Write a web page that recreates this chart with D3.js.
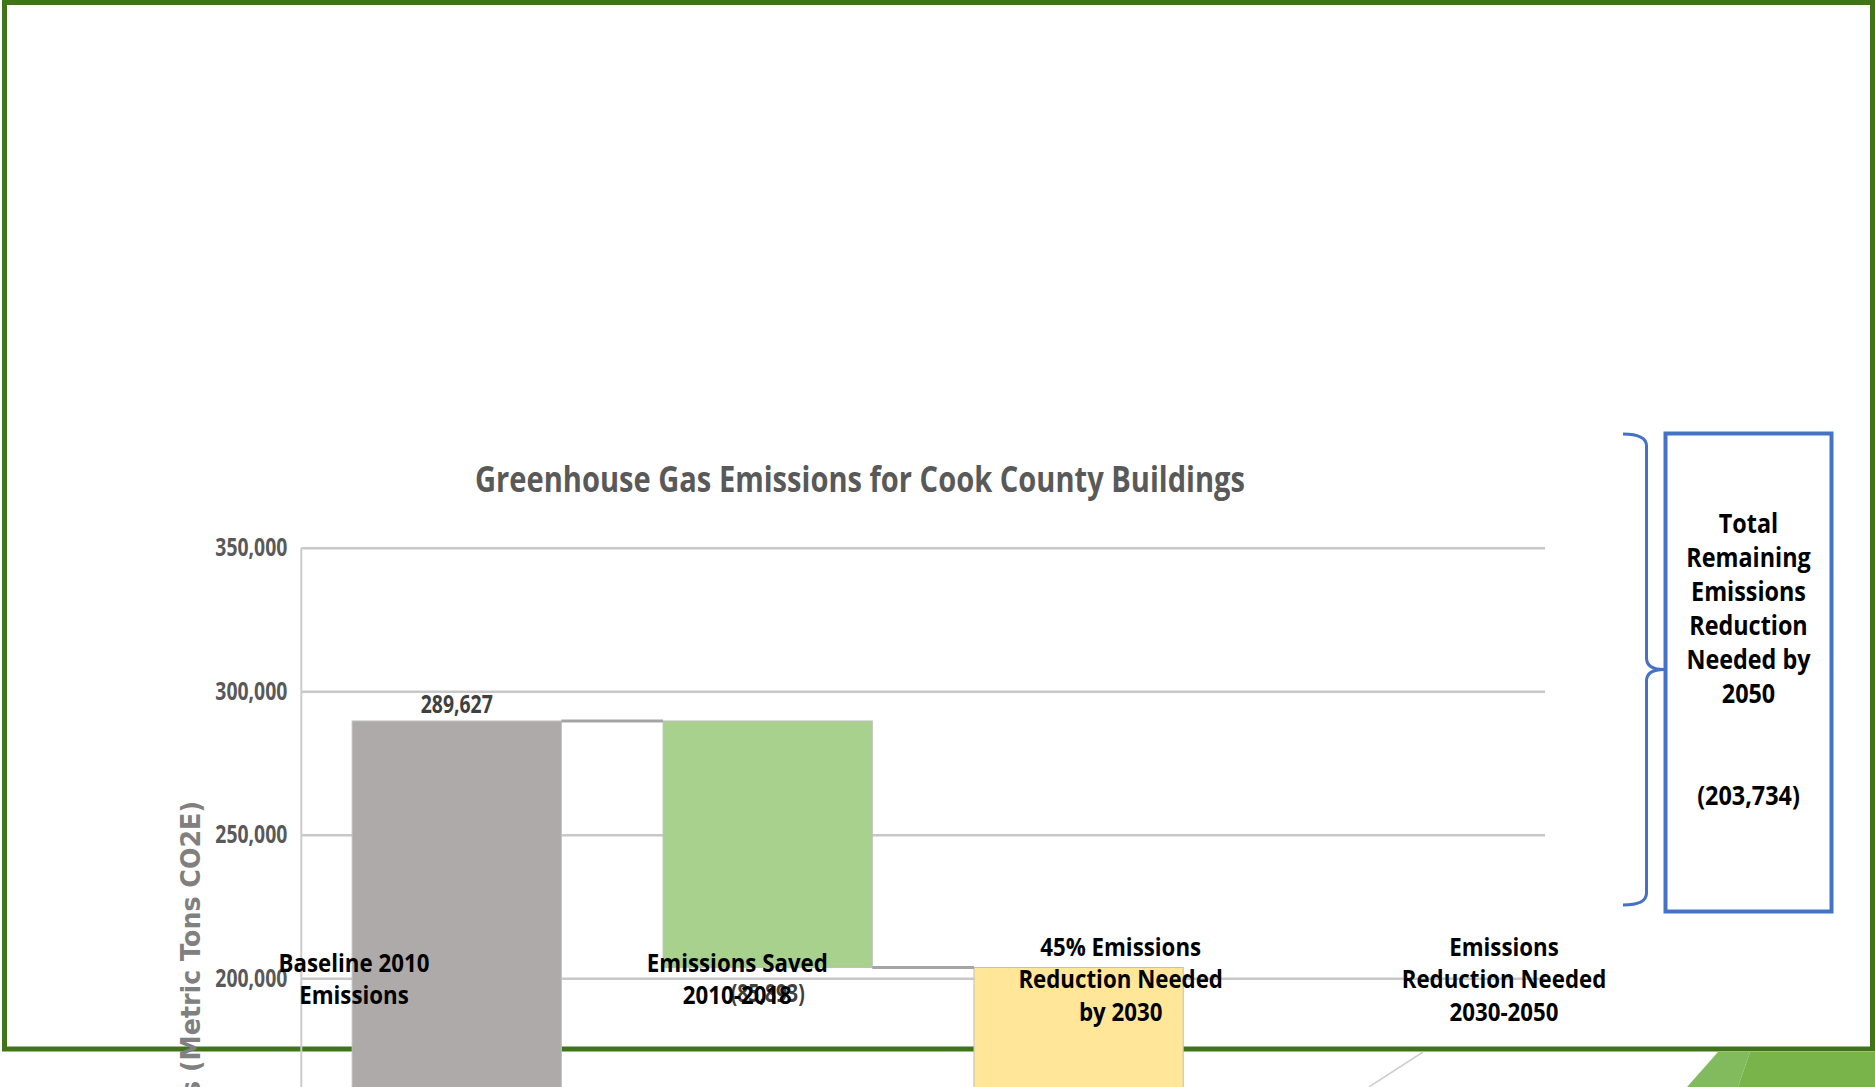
<!DOCTYPE html>
<html>
<head>
<meta charset="utf-8">
<script src="https://cdn.jsdelivr.net/npm/d3@7"></script>
<style>
  html, body { margin: 0; padding: 0; background: #fff; overflow: hidden; }
  svg { display: block; }
</style>
</head>
<body>
<div id="slide"></div>
<script>
const width = 1875, height = 1087;

// chart values
const categories = ["Baseline 2010 Emissions", "Emissions Saved 2010-2018", "45% Emissions Reduction Needed by 2030", "Emissions Reduction Needed 2030-2050"];
const categoryLines = [["Baseline 2010", "Emissions"], ["Emissions Saved", "2010-2018"], ["45% Emissions", "Reduction Needed", "by 2030"], ["Emissions", "Reduction Needed", "2030-2050"]];
const changes = [289627, -85893, -44439, -159295];
const barColors = ["#aeaaaa", "#a9d18e", "#ffe699", "#f4b183"];
const yTicks = [200000, 250000, 300000, 350000];
const boxLines = ["Total", "Remaining", "Emissions", "Reduction", "Needed by", "2050"];
const chartTitle = "Greenhouse Gas Emissions for Cook County Buildings";
const yTitle = "Emissions (Metric Tons CO2E)";

const fonts = {
  title: { family: "'Open Sans', sans-serif", size: 36, weight: 700, fill: "#595959" },
  tick: { family: "'Open Sans', sans-serif", size: 25, weight: 700, fill: "#595959" },
  value: { family: "'Open Sans', sans-serif", size: 25, weight: 700, fill: "#404040" },
  cat: { family: "'Open Sans', sans-serif", size: 25, weight: 700, fill: "#000" },
  box: { family: "'Open Sans', sans-serif", size: 26, weight: 700, fill: "#000" },
  axis: { family: "'DejaVu Sans', sans-serif", size: 26, weight: 700, fill: "#808080" }
};

let svg;

const Chart = {
  init: () => {
    svg = d3.select("#slide").append("svg")
      .attr("width", width)
      .attr("height", height)
      .attr("viewBox", [0, 0, width, height]);

    let running = 0;
    const bars = changes.map((v, i) => {
      const start = running;
      running += v;
      return { cat: categories[i], lines: categoryLines[i], value: v, start: start, end: running, color: barColors[i] };
    });

    Chart.frame();
    Chart.graph(bars);
    Chart.bracket();
  },
  frame: () => {
    // slide border and the corner decoration under it
    svg.append("rect")
      .attr("x", 4.5).attr("y", 2.5)
      .attr("width", 1868).attr("height", 1046.5)
      .attr("fill", "none")
      .attr("stroke", "#3f7419")
      .attr("stroke-width", 5);

    svg.append("line")
      .attr("x1", 1423).attr("y1", 1052)
      .attr("x2", 1369).attr("y2", 1087)
      .attr("stroke", "#cfcfcf")
      .attr("stroke-width", 1.5);

    svg.append("path")
      .attr("d", "M1718,1052 L1750,1052 L1738,1087 L1687,1087 Z")
      .attr("fill", "#82bb5e");
    svg.append("path")
      .attr("d", "M1750,1052 L1875,1052 L1875,1087 L1738,1087 Z")
      .attr("fill", "#79b44b");
  },
  graph: (bars) => {
    const plotLeft = 301.3, plotRight = 1545;
    const fmt = d3.format(",");
    const label = v => v < 0 ? `(${fmt(-v)})` : fmt(v);

    const x = d3.scaleBand()
      .domain(categories)
      .range([plotLeft, plotRight])
      .paddingInner(0.327)
      .paddingOuter(0.1635);

    // category captions sit in their own text boxes, spread wider than the bars
    const xLabel = d3.scalePoint()
      .domain(categories)
      .range([354, 1504]);

    const y = d3.scaleLinear()
      .domain([200000, 350000])
      .range([978.2, 547.7]);

    const yAxis = d3.axisLeft(y)
      .tickValues(yTicks)
      .tickFormat(fmt)
      .tickSize(-(plotRight - plotLeft))
      .tickPadding(14);

    const gAxis = svg.append("g")
      .attr("transform", `translate(${plotLeft},0)`)
      .call(yAxis);
    gAxis.select(".domain").remove();
    gAxis.selectAll(".tick line")
      .attr("stroke", "#c8c8c8")
      .attr("stroke-width", 2.5);
    const ticks = styled(gAxis.selectAll(".tick text"), fonts.tick);
    squeeze(ticks, fonts.tick, "350,000", 72);

    svg.append("line")
      .attr("x1", plotLeft).attr("x2", plotLeft)
      .attr("y1", y(350000)).attr("y2", y(0))
      .attr("stroke", "#cccccc")
      .attr("stroke-width", 2);

    svg.append("g")
      .selectAll("rect")
      .data(bars)
      .join("rect")
      .attr("x", d => x(d.cat))
      .attr("width", x.bandwidth())
      .attr("y", d => y(Math.max(d.start, d.end)))
      .attr("height", d => Math.abs(y(d.start) - y(d.end)))
      .attr("fill", d => d.color)
      .attr("stroke", "#bfbfbf")
      .attr("stroke-width", 1);

    svg.append("g")
      .selectAll("line")
      .data(bars.slice(0, -1))
      .join("line")
      .attr("x1", d => x(d.cat) + x.bandwidth())
      .attr("x2", (d, i) => x(bars[i + 1].cat))
      .attr("y1", d => y(d.end))
      .attr("y2", d => y(d.end))
      .attr("stroke", "#a5a5a5")
      .attr("stroke-width", 3);

    // only the labels that land on the slide; the rest fall below its edge
    const labelY = d => d.value < 0 ? y(d.end) + 25 : y(d.end) - 18;
    const values = styled(svg.append("g")
      .selectAll("text")
      .data(bars.filter(d => labelY(d) < height))
      .join("text")
      .attr("x", d => x(d.cat) + x.bandwidth() / 2)
      .attr("y", labelY)
      .attr("text-anchor", "middle")
      .attr("dominant-baseline", "central")
      .text(d => label(d.value)), fonts.value);
    squeeze(values, fonts.value, "289,627", 72);

    const lineGap = 32.3, labelMid = 978.2;
    const cats = styled(svg.append("g")
      .selectAll("text")
      .data(bars.flatMap(d => d.lines.map((t, i) => ({ cat: d.cat, text: t, i: i, n: d.lines.length }))))
      .join("text")
      .attr("x", d => xLabel(d.cat))
      .attr("y", d => labelMid + (d.i - (d.n - 1) / 2) * lineGap)
      .attr("text-anchor", "middle")
      .attr("dominant-baseline", "central")
      .text(d => d.text), fonts.cat);
    squeeze(cats, fonts.cat, "Reduction Needed", 204.5);

    const title = styled(svg.append("text")
      .attr("x", 860)
      .attr("y", 492)
      .attr("text-anchor", "middle")
      .text(chartTitle), fonts.title);
    squeeze(title, fonts.title, chartTitle, 770);

    const axisTitle = styled(svg.append("text")
      .attr("transform", "translate(200,801) rotate(-90)")
      .attr("text-anchor", "end")
      .text(yTitle), fonts.axis);
    squeeze(axisTitle, fonts.axis, "(Metric Tons CO2E)", 271);

    Chart.remaining = -d3.sum(changes.slice(2));
    Chart.label = label;
  },
  bracket: () => {
    svg.append("path")
      .attr("d", "M1623,434 Q1646.5,434 1646.5,446 L1646.5,658 Q1646.5,669.5 1664,669.5 Q1646.5,669.5 1646.5,681 L1646.5,893 Q1646.5,905 1623,905")
      .attr("fill", "none")
      .attr("stroke", "#4472c4")
      .attr("stroke-width", 3);

    svg.append("rect")
      .attr("x", 1665.5).attr("y", 433.5)
      .attr("width", 166).attr("height", 478)
      .attr("fill", "none")
      .attr("stroke", "#4472c4")
      .attr("stroke-width", 4);

    const lines = boxLines.concat(["", "", Chart.label(-Chart.remaining)]);
    const box = styled(svg.append("g")
      .selectAll("text")
      .data(lines.map((t, i) => ({ t, i })).filter(d => d.t))
      .join("text")
      .attr("x", 1748.5)
      .attr("y", d => 522.6 + d.i * 34)
      .attr("text-anchor", "middle")
      .attr("dominant-baseline", "central")
      .text(d => d.t), fonts.box);
    squeeze(box, fonts.box, "Remaining", 124.4);
  }
};

function styled(sel, f) {
  return sel
    .attr("font-family", f.family)
    .attr("font-size", f.size)
    .attr("font-weight", f.weight)
    .attr("fill", f.fill);
}

// the slide uses a narrow face, so shrink each text by the ratio of one known line
function squeeze(sel, f, sample, target) {
  const probe = styled(svg.append("text"), f).text(sample);
  const k = target / probe.node().getComputedTextLength();
  probe.remove();
  sel.each(function () {
    const len = this.getComputedTextLength();
    if (len > 0) d3.select(this).attr("textLength", len * k).attr("lengthAdjust", "spacingAndGlyphs");
  });
}

Chart.init();
</script>
</body>
</html>
